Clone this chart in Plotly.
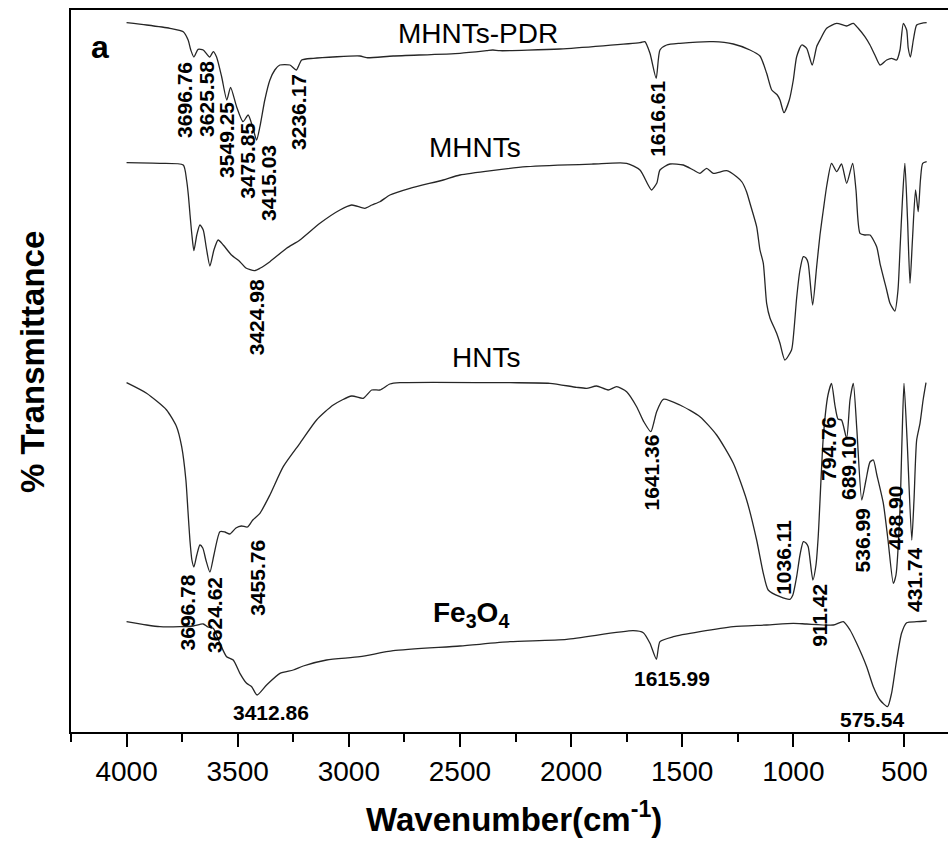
import plotly.graph_objects as go

# ---------------- data (wavenumber cm^-1, transmittance a.u., offset) ----------------
pdr_wn = [4000, 3910, 3805, 3745, 3723, 3711, 3697, 3678, 3655, 3626, 3610, 3595, 3572, 3549,
          3532, 3505, 3476, 3453, 3433, 3415, 3400, 3378, 3355, 3333, 3310, 3265, 3236, 3212,
          3160, 2950, 2920, 2800, 2500, 2380, 2352, 2320, 2050, 1690, 1668, 1645, 1617, 1600,
          1570, 1510, 1360, 1270, 1195, 1150, 1120, 1097, 1072, 1060, 1042, 1018, 1000, 985,
          962, 940, 915, 895, 880, 850, 805, 760, 730, 708, 678, 655, 633, 610, 580, 558, 535,
          520, 505, 490, 483, 473, 460, 445, 423, 400]
pdr_t = [709.3, 707, 703.7, 700.3, 692, 682, 675, 682.7, 682, 675, 680.3, 675, 655, 632,
         644.7, 625.3, 610.3, 617, 605.3, 592, 605.3, 632, 652, 662, 667, 667, 662, 672,
         673.7, 676, 674.3, 676, 678.7, 681.3, 682, 681.3, 683, 689.3, 690.3, 678.7, 653.7, 682,
         687, 688.7, 690.3, 688, 682, 676, 658.7, 642, 637, 632, 619.3, 632, 652, 675.3,
         687, 683.7, 667, 685.3, 692, 703.7, 708.7, 706, 708.7, 703.7, 695.3, 687, 677, 667, 672, 673.7, 672,
         682, 708.7, 702, 684, 675, 692, 707, 708.7, 709.3]

mh_wn = [4000, 3850, 3745, 3730, 3722, 3715, 3706, 3697, 3684, 3670, 3655, 3641, 3625, 3607,
         3588, 3565, 3528, 3490, 3463, 3425, 3400, 3355, 3280, 3220, 3130, 3040, 2987, 2928,
         2896, 2860, 2815, 2725, 2575, 2500, 2200, 1900, 1750, 1690, 1653, 1638, 1614, 1600,
         1555, 1495, 1450, 1420, 1390, 1360, 1300, 1255, 1231, 1210, 1195, 1165, 1150, 1135,
         1120, 1105, 1075, 1060, 1038, 1008, 997, 985, 970, 955, 943, 933, 913, 895, 880, 865,
         849, 828, 805, 783, 760, 733, 718, 700, 678, 655, 625, 610, 580, 565, 543, 529, 520,
         509, 498, 486, 475, 464, 450, 438, 428, 418, 400]
mh_t = [569.3, 568.7, 567, 552, 537, 518.7, 497, 481.3, 497, 507, 502, 484, 466, 482,
        492, 487, 477, 470.3, 464, 461.3, 463.7, 470.3, 483.7, 492, 508.7, 522, 527, 523.7,
        527, 530.3, 537, 543.7, 552, 557, 565.3, 568, 568.7, 562, 547, 542, 549, 562,
        568, 567, 562, 558.7, 563.7, 558.7, 561.3, 555.3, 550, 540, 528.7, 505.3, 482, 468.7,
        428.7, 414, 398.7, 388.7, 372, 382, 402, 434, 462, 475.3, 474, 468.7, 427, 465.3, 497, 522,
        547, 568.7, 560.3, 568, 548.7, 568.7, 542, 498.7, 497, 497, 485.3, 468.7, 442, 428.7, 421, 442, 482,
        532, 568.7, 512, 448.7, 492, 542, 520.3, 552, 568.7, 570.3]

hnt_wn = [4000, 3910, 3820, 3775, 3752, 3733, 3724, 3715, 3706, 3697, 3684, 3670, 3657, 3643,
          3625, 3607, 3580, 3558, 3535, 3508, 3483, 3456, 3432, 3400, 3355, 3295, 3220, 3145,
          3070, 2987, 2935, 2897, 2860, 2815, 2770, 2275, 2095, 1975, 1930, 1885, 1833, 1795,
          1750, 1705, 1672, 1641, 1627, 1615, 1585, 1510, 1420, 1345, 1270, 1210, 1165, 1135,
          1113, 1060, 1015, 1002, 985, 970, 955, 943, 933, 912, 898, 888, 865, 844, 828, 813,
          799, 783, 760, 745, 730, 714, 692, 673, 655, 640, 624, 595, 574, 550, 538, 520, 511,
          502, 488, 467, 457, 445, 430, 416, 403]
hnt_t = [349.3, 338.7, 322, 305.3, 285.3, 252, 222, 192, 172, 165, 177, 187, 184, 172,
         160, 177, 200.3, 200, 198, 204, 206, 205, 212, 218.7, 237, 265.3, 288.7, 312,
         327, 336, 333.7, 342, 342, 348, 349.3, 349.3, 348.7, 344.7, 343.7, 346, 342, 345.3,
         340.3, 325.3, 310, 300.3, 310, 320.3, 332.7, 327, 315.3, 297, 268.7, 232, 192, 158.7,
         142, 135.3, 132.7, 137, 155.3, 177, 190.3, 189, 185.3, 152, 167, 195.3, 295.3, 337, 348.7, 327,
         313, 312, 293.7, 332, 348.7, 302, 232, 252, 270, 272, 257, 228.7, 192, 148.7, 157, 222, 292,
         348.7, 292, 192, 232, 292, 308.7, 332, 349.3]

fe_wn = [4000, 3910, 3850, 3760, 3700, 3655, 3634, 3610, 3580, 3550, 3520, 3490, 3460, 3437,
         3413, 3370, 3310, 3250, 3205, 3100, 2950, 2800, 2500, 2275, 2020, 1720, 1675, 1645,
         1616, 1600, 1540, 1420, 1270, 1120, 1000, 940, 820, 775, 745, 715, 670, 640, 610, 576,
         558, 535, 513, 490, 445, 400]
fe_t = [110.3, 107, 105.3, 105.3, 106, 108, 105, 103.7, 88.7, 75.3, 72, 58.7, 48.7, 45.3,
        37, 47, 58.7, 62, 66, 72, 75.3, 81.3, 86, 90.3, 92.7, 101.3, 99.3, 88.7,
        72.7, 90.3, 95.3, 100.3, 105.3, 107, 108.7, 108, 107, 110.3, 102, 88.7, 65.3, 45.3, 32, 25.3,
        38.7, 72, 98.7, 109.3, 110.3, 111]

series_names = ["MHNTs-PDR", "MHNTs", "HNTs", "Fe3O4"]
x_ticks = [4000, 3500, 3000, 2500, 2000, 1500, 1000, 500]

# peak labels: text, wavenumber position, transmittance position, angle
peak_text = ["3696.76", "3625.58", "3549.25", "3475.85", "3415.03", "3236.17", "1616.61",
             "3424.98",
             "3696.78", "3624.62", "3455.76", "1641.36", "1036.11", "911.42", "794.76",
             "689.10", "536.99", "468.90", "431.74",
             "3412.86", "1615.99", "575.54"]
peak_x = [3742, 3643, 3553, 3459, 3364, 3229, 1614,
          3414,
          3726, 3607, 3414, 1636, 1047, 885, 844,
          754, 689, 543, 457,
          3351, 1544, 642]
peak_y = [632, 633, 592, 571, 549, 620, 613,
          414.5,
          120, 117, 154, 259.5, 175, 117, 283,
          264, 192, 214, 152,
          20, 54, 13]
peak_angle = [-90] * 19 + [0] * 3

FONT = "Liberation Sans, Arial, sans-serif"

fig = go.Figure()
for wn, t, name in [(pdr_wn, pdr_t, series_names[0]), (mh_wn, mh_t, series_names[1]),
                    (hnt_wn, hnt_t, series_names[2]), (fe_wn, fe_t, series_names[3])]:
    fig.add_trace(go.Scatter(x=wn, y=t, mode="lines", name=name,
                             line=dict(color="#262626", width=1.3, shape="spline", smoothing=0.6),
                             showlegend=False, hoverinfo="skip"))

annotations = []
for txt, x, y, a in zip(peak_text, peak_x, peak_y, peak_angle):
    annotations.append(dict(x=x, y=y, xref="x", yref="y", text=f"<b>{txt}</b>", showarrow=False,
                            textangle=a, xanchor="center", yanchor="middle",
                            font=dict(family=FONT, size=21, color="black")))

# curve labels
for txt, x, y, bold in [("MHNTs-PDR", 2419, 699, False), ("MHNTs", 2433, 584.5, False),
                        ("HNTs", 2383, 375, False),
                        ("Fe<sub>3</sub>O<sub>4</sub>", 2451, 118, True)]:
    annotations.append(dict(x=x, y=y, xref="x", yref="y",
                            text=f"<b>{txt}</b>" if bold else txt, showarrow=False,
                            xanchor="center", yanchor="middle",
                            font=dict(family=FONT, size=28, color="black")))

annotations.append(dict(x=4120, y=685, xref="x", yref="y", text="<b>a</b>", showarrow=False,
                        xanchor="center", yanchor="middle",
                        font=dict(family=FONT, size=32, color="black")))

# axis titles
annotations.append(dict(x=0.505, y=-0.118, xref="paper", yref="paper",
                        text="<b>Wavenumber(cm<sup>-1</sup>)</b>", showarrow=False,
                        xanchor="center", yanchor="middle",
                        font=dict(family=FONT, size=33, color="black")))
annotations.append(dict(x=-0.0433, y=0.5125, xref="paper", yref="paper",
                        text="<b>% Transmittance</b>", showarrow=False, textangle=-90,
                        xanchor="center", yanchor="middle",
                        font=dict(family=FONT, size=33, color="black")))

fig.update_layout(
    width=948, height=843,
    margin=dict(l=71, r=0, t=10, b=111),
    paper_bgcolor="white", plot_bgcolor="white",
    annotations=annotations,
    xaxis=dict(range=[4250, 304], showgrid=False, zeroline=False,
               showline=True, linecolor="black", linewidth=2, mirror=True,
               ticks="outside", ticklen=13, tickwidth=2, tickcolor="black",
               tickvals=x_ticks, ticktext=[str(v) for v in x_ticks],
               tickfont=dict(family=FONT, size=28, color="black"),
               minor=dict(dtick=250, tick0=0, ticks="outside", ticklen=8, tickwidth=2,
                          tickcolor="black", showgrid=False)),
    yaxis=dict(range=[0, 722], showgrid=False, zeroline=False,
               showline=True, linecolor="black", linewidth=2, mirror=False,
               ticks="", showticklabels=False),
)

fig.write_html("out.html")
